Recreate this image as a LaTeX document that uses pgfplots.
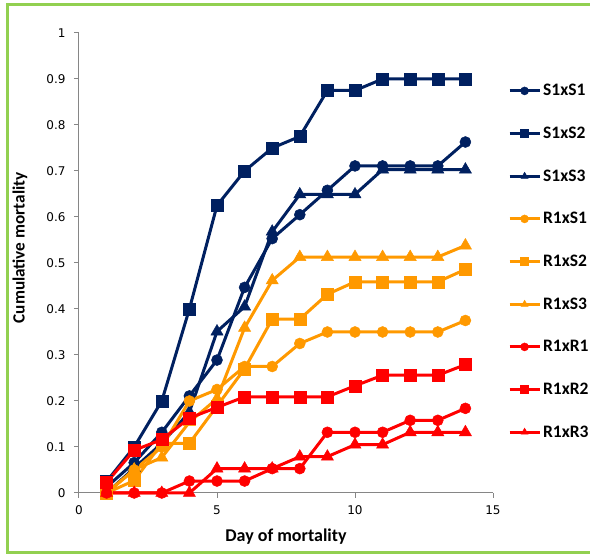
\documentclass[border=0pt]{standalone}
\usepackage{pgfplots}
\pgfplotsset{compat=1.18}
\usepackage{fontspec}
\setmainfont{Carlito}
\newfontfamily\tickfont{DejaVu Sans}
\definecolor{navy}{HTML}{002060}
\definecolor{orng}{HTML}{FF9900}
\definecolor{rd}{HTML}{FF0000}
\definecolor{framegreen}{HTML}{92D050}
\definecolor{axgray}{HTML}{868686}

\begin{document}
\begin{tikzpicture}
\useasboundingbox (0pt,0pt) rectangle (590pt,554pt);
\draw[framegreen, line width=3pt] (592pt,549pt) -- (7pt,549pt) -- (7pt,1.5pt) -- (592pt,1.5pt);
\begin{axis}[at={(79pt,61pt)}, anchor=south west, scale only axis,
  width=414pt, height=460pt,
  xmin=0, xmax=15, ymin=0, ymax=1,
  xtick={0,5,10,15}, ytick={0,0.1,0.2,0.3,0.4,0.5,0.6,0.7,0.8,0.9,1},
  axis lines=left, axis line style={-, axgray, line width=1pt},
  tick style={axgray, line width=1pt}, tick align=outside, major tick length=5pt,
  ticklabel style={font=\tickfont\fontsize{12}{12}\selectfont, text=black},
  xticklabel style={yshift=-4pt},
  yticklabel style={xshift=-5pt, /pgf/number format/fixed, /pgf/number format/precision=1},
  /pgf/number format/assume math mode=true,
  xlabel={Day of mortality}, ylabel={Cumulative mortality},
  label style={font=\bfseries\fontsize{18}{20}\selectfont},
  xlabel style={at={(axis description cs:0.5,-0.0957)}, anchor=center},
  ylabel style={at={(axis description cs:-0.1425,0.533)}, anchor=center, font=\bfseries\fontsize{17.2}{19}\selectfont},
  clip=false,
  every axis plot/.append style={line width=3pt},
  legend style={at={(axis description cs:1.036,0.893)}, anchor=north west, draw=none, fill=none,
    font=\bfseries\fontsize{17.5}{18}\selectfont, row sep=25.7pt, inner sep=0pt},
  legend cell align=left,
  legend image code/.code={\draw[mark repeat=2,mark phase=2,#1,mark size=4pt] plot coordinates {(0pt,0pt) (15pt,0pt) (30pt,0pt)};},
]
\addplot[navy, mark=*, mark size=5.5pt, mark options={line width=0.5pt}] coordinates {(1,0.013) (2,0.066) (3,0.132) (4,0.211) (5,0.289) (6,0.447) (7,0.553) (8,0.605) (9,0.658) (10,0.711) (11,0.711) (12,0.711) (13,0.711) (14,0.763)};
\addlegendentry{S1xS1}
\addplot[navy, mark=square*, mark size=6pt, mark options={line width=0.5pt}] coordinates {(1,0.025) (2,0.1) (3,0.2) (4,0.4) (5,0.625) (6,0.7) (7,0.75) (8,0.775) (9,0.875) (10,0.875) (11,0.9) (12,0.9) (13,0.9) (14,0.9)};
\addlegendentry{S1xS2}
\addplot[navy, mark=triangle*, mark size=7pt, mark options={line width=0.5pt}] coordinates {(1,0) (2,0.054) (3,0.108) (4,0.176) (5,0.351) (6,0.405) (7,0.568) (8,0.649) (9,0.649) (10,0.649) (11,0.703) (12,0.703) (13,0.703) (14,0.703)};
\addlegendentry{S1xS3}
\addplot[orng, mark=*, mark size=5.5pt, mark options={line width=0.5pt}] coordinates {(1,0) (2,0.05) (3,0.1) (4,0.2) (5,0.225) (6,0.275) (7,0.275) (8,0.325) (9,0.35) (10,0.35) (11,0.35) (12,0.35) (13,0.35) (14,0.375)};
\addlegendentry{R1xS1}
\addplot[orng, mark=square*, mark size=6pt, mark options={line width=0.5pt}] coordinates {(1,0) (2,0.027) (3,0.108) (4,0.108) (5,0.189) (6,0.27) (7,0.378) (8,0.378) (9,0.432) (10,0.459) (11,0.459) (12,0.459) (13,0.459) (14,0.486)};
\addlegendentry{R1xS2}
\addplot[orng, mark=triangle*, mark size=7pt, mark options={line width=0.5pt}] coordinates {(1,0) (2,0.051) (3,0.077) (4,0.154) (5,0.205) (6,0.359) (7,0.462) (8,0.513) (9,0.513) (10,0.513) (11,0.513) (12,0.513) (13,0.513) (14,0.538)};
\addlegendentry{R1xS3}
\addplot[rd, mark=*, mark size=5.5pt, mark options={line width=0.5pt}] coordinates {(1,0) (2,0) (3,0) (4,0.026) (5,0.026) (6,0.026) (7,0.053) (8,0.053) (9,0.132) (10,0.132) (11,0.132) (12,0.158) (13,0.158) (14,0.184)};
\addlegendentry{R1xR1}
\addplot[rd, mark=square*, mark size=6pt, mark options={line width=0.5pt}] coordinates {(1,0.023) (2,0.093) (3,0.116) (4,0.163) (5,0.186) (6,0.209) (7,0.209) (8,0.209) (9,0.209) (10,0.233) (11,0.256) (12,0.256) (13,0.256) (14,0.279)};
\addlegendentry{R1xR2}
\addplot[rd, mark=triangle*, mark size=7pt, mark options={line width=0.5pt}] coordinates {(1,0) (2,0) (3,0) (4,0) (5,0.053) (6,0.053) (7,0.053) (8,0.079) (9,0.079) (10,0.105) (11,0.105) (12,0.132) (13,0.132) (14,0.132)};
\addlegendentry{R1xR3}
\end{axis}
\end{tikzpicture}
\end{document}
